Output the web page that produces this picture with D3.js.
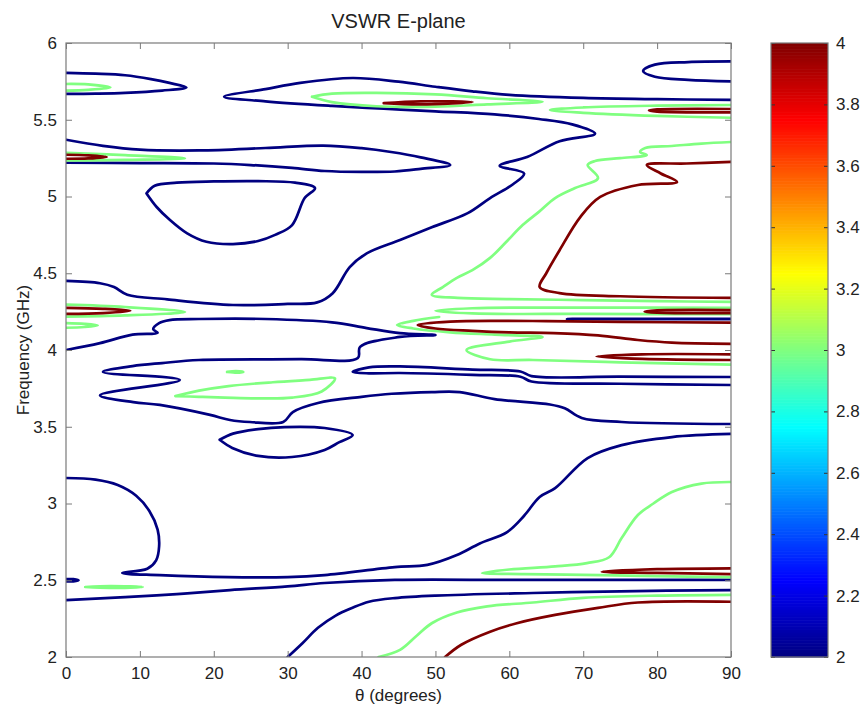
<!DOCTYPE html>
<html>
<head>
<meta charset="utf-8">
<script src="https://cdn.jsdelivr.net/npm/d3@7"></script>
<style>
  body { margin: 0; background: #fff; }
  text { font-family: "Liberation Sans", Arial, sans-serif; fill: #222; }
</style>
</head>
<body>
<svg width="864" height="711"></svg>
<script>
// axis ticks
const thetaTicks = [0, 10, 20, 30, 40, 50, 60, 70, 80, 90];
const freqTicks = [2, 2.5, 3, 3.5, 4, 4.5, 5, 5.5, 6];
const barTicks = [2, 2.2, 2.4, 2.6, 2.8, 3, 3.2, 3.4, 3.6, 3.8, 4];
const levels = [2, 3, 4];

// contour lines, [theta (deg), frequency (GHz)]
// level 2 (blue)
const b2TopLeft = [[0,5.805],[4,5.8],[8,5.79],[11.5,5.765],[14,5.74],[16.3,5.71],[13,5.69],[8,5.675],[4,5.67],[0,5.668]];
const b2Long = [[0,4.45],[4.6,4.435],[6.5,4.41],[8.3,4.36],[13.7,4.33],[22.6,4.293],[30,4.3],[34,4.31],[36.1,4.37],[38.4,4.54],[40.7,4.63],[45.2,4.717],[49.5,4.8],[54.3,4.89],[57.4,4.99],[60.5,5.08],[62,5.15],[58.7,5.2],[62.4,5.257],[66.8,5.36],[71.6,5.41],[68.5,5.47],[64,5.505],[58,5.535],[50,5.555],[43,5.572],[36,5.59],[27,5.62],[21.4,5.65],[27,5.7],[31.7,5.74],[38.8,5.772],[45,5.748],[50,5.715],[55,5.685],[60,5.662],[70,5.642],[80,5.634],[90,5.63]];
const b2Band52 = [[0,5.37],[5,5.33],[10,5.305],[18,5.3],[27,5.316],[34.8,5.332],[40,5.315],[44,5.29],[48,5.255],[52,5.205],[48,5.18],[44.5,5.163],[40,5.16],[35,5.166],[30.6,5.186],[25,5.205],[20,5.215],[10,5.218],[0,5.22]];
const b2Loop50 = [[10.9,5.02],[12,5.07],[15,5.09],[20,5.098],[26,5.1],[31,5.09],[33.7,5.055],[32.3,4.99],[30.6,4.814],[28.3,4.75],[26,4.71],[22.6,4.69],[19,4.705],[16.4,4.76],[14,4.85],[12.3,4.93],[10.9,5.02]];
const b2TopRight = [[90,5.88],[84.2,5.876],[79.7,5.859],[78.1,5.818],[79.7,5.78],[84.2,5.76],[90,5.75]];
const b2Mid = [[0,4.0],[4.6,4.045],[9,4.1],[12.4,4.112],[11.8,4.135],[12.6,4.175],[14,4.195],[18,4.202],[27,4.202],[36,4.18],[40.7,4.143],[45.2,4.11],[50,4.097],[45.2,4.085],[39.8,4.02],[39.5,3.948],[31.7,3.94],[18,3.935],[13,3.915],[9,3.895],[5,3.857],[15.4,3.805],[4.6,3.705],[9.1,3.66],[12.7,3.642],[19.5,3.577],[22.2,3.544],[24.9,3.531],[29.4,3.531],[30.7,3.596],[34.1,3.655],[40,3.695],[44.1,3.715],[49.5,3.726],[53.3,3.726],[58,3.68],[65.5,3.645],[67.5,3.62],[69.8,3.557],[75.2,3.531],[90,3.518]];
const b2Loop385 = [[90,3.824],[75,3.826],[63,3.83],[61.5,3.86],[55,3.872],[45.2,3.893],[41,3.887],[38.8,3.857],[41,3.848],[45.2,3.85],[55,3.838],[61.5,3.826],[63,3.795],[75,3.78],[90,3.772]];
const b2Loop34 = [[20.8,3.415],[22.6,3.455],[26,3.485],[29.6,3.498],[35,3.492],[38.8,3.446],[37,3.4],[35,3.349],[30.6,3.303],[26,3.31],[22.5,3.362],[20.8,3.415]];
const b2Low = [[0,3.166],[4,3.155],[7,3.12],[9.5,3.05],[11.3,2.95],[12.4,2.83],[12.6,2.72],[12.2,2.63],[11,2.575],[7.6,2.547],[12.7,2.534],[22,2.521],[30,2.521],[35,2.534],[44.5,2.586],[48.9,2.6],[52.9,2.664],[56,2.74],[59.7,2.814],[62,2.92],[64.1,3.042],[66.2,3.1],[70.6,3.296],[75.2,3.38],[82,3.433],[90,3.453]];
const b2Band25 = [[0,2.371],[8,2.39],[15,2.41],[22.2,2.436],[30,2.46],[35,2.482],[44.5,2.502],[60,2.502],[75,2.502],[90,2.502]];
const b2Bottom = [[30,2.0],[32,2.09],[34.1,2.19],[36.5,2.27],[38.7,2.319],[41,2.36],[44.5,2.384],[50,2.4],[63.2,2.417],[75,2.428],[90,2.436]];
const b2Dot25 = [[0,2.508],[1,2.507],[1.7,2.5],[1,2.493],[0,2.492]];
const b2Line42 = [[90,4.203],[75,4.203],[67.8,4.202],[75,4.201],[90,4.201]];

// level 3 (green)
const g3TopLeft = [[0,5.733],[3,5.73],[6,5.71],[3,5.695],[0,5.69]];
const g3Mid565 = [[33.3,5.65],[36,5.67],[42,5.675],[50,5.665],[57,5.64],[64.5,5.617],[57,5.6],[50,5.585],[42,5.588],[36,5.615],[33.3,5.65]];
const g3Right555 = [[90,5.596],[80,5.592],[70,5.58],[65.5,5.563],[70,5.545],[80,5.525],[90,5.513]];
const g3Left525 = [[0,5.285],[8,5.27],[16.1,5.25],[8,5.238],[0,5.235]];
const g3Big = [[90,5.355],[86,5.345],[82,5.329],[78.4,5.316],[77.7,5.29],[78.6,5.27],[75,5.25],[71.6,5.231],[70.6,5.205],[72,5.12],[68.9,5.055],[66.2,4.99],[64,4.9],[61.8,4.814],[59.5,4.7],[57.4,4.6],[55,4.52],[52.9,4.47],[51,4.41],[49.5,4.36],[53,4.34],[60,4.332],[70,4.325],[80,4.318],[90,4.313]];
const g3Left425 = [[0,4.295],[8,4.28],[16.1,4.248],[8,4.225],[0,4.218]];
const g3Left416 = [[0,4.175],[2.5,4.17],[4.3,4.16],[2.5,4.15],[0,4.145]];
const g3Right425 = [[90,4.275],[70,4.276],[55,4.272],[50,4.255],[55,4.238],[70,4.235],[90,4.233]];
const g3Right41 = [[50.5,4.215],[47,4.19],[44.8,4.163],[47,4.14],[52,4.115],[58,4.1],[64.5,4.085],[60,4.055],[54.2,4.0],[57.4,3.94],[63.2,3.935],[75,3.92],[90,3.905]];
const g3Loop375 = [[14.8,3.7],[18,3.735],[22,3.765],[28,3.79],[33,3.805],[36.4,3.815],[34.6,3.73],[30.6,3.69],[26,3.685],[21.5,3.69],[18,3.695],[14.8,3.7]];
const g3Dot386 = [[21.8,3.857],[23,3.862],[24,3.857],[23,3.852],[21.8,3.857]];
const g3Right3 = [[90,3.14],[86,3.13],[82,3.075],[79.5,3.0],[77.4,2.925],[75.2,2.775],[73.5,2.65],[70.5,2.612],[66.2,2.59],[60,2.57],[56.3,2.547],[62,2.54],[72.3,2.534],[80,2.527],[90,2.521]];
const g3Left246 = [[2.6,2.456],[6,2.462],[10.4,2.456],[6,2.45],[2.6,2.456]];
const g3Bottom = [[42.3,2.0],[45.2,2.046],[47.5,2.14],[49.5,2.22],[52.9,2.29],[57,2.33],[63.2,2.355],[70,2.385],[80,2.4],[90,2.405]];

// level 4 (dark red)
const r4Mid56 = [[43,5.608],[48,5.62],[55,5.615],[48,5.6],[43,5.608]];
const r4Right556 = [[90,5.57],[80,5.567],[78.9,5.56],[80,5.553],[90,5.548]];
const r4Left526 = [[0,5.272],[3,5.268],[5.5,5.258],[3,5.248],[0,5.246]];
const r4Big = [[90,5.225],[84,5.215],[78.6,5.205],[80.5,5.15],[82.7,5.094],[77.4,5.075],[72.3,4.997],[69.6,4.866],[66.8,4.65],[65,4.5],[64.1,4.41],[66.8,4.371],[75,4.35],[90,4.339]];
const r4Left425 = [[0,4.274],[5,4.268],[8.7,4.255],[5,4.24],[0,4.235]];
const r4Right425 = [[90,4.26],[80,4.258],[78.3,4.25],[80,4.243],[90,4.24]];
const r4Right41 = [[90,4.178],[75,4.183],[65,4.188],[58.7,4.19],[52,4.185],[47.6,4.163],[50,4.14],[55,4.125],[60,4.115],[66,4.11],[72,4.095],[77.4,4.065],[82,4.048],[90,4.04]];
const r4Right395 = [[90,3.972],[78,3.972],[71.8,3.958],[78,3.942],[90,3.935]];
const r4Right256 = [[90,2.578],[80,2.572],[72.5,2.555],[80,2.548],[90,2.54]];
const r4Bottom = [[51.3,2.0],[53.5,2.08],[57.4,2.165],[61,2.22],[66.2,2.274],[72,2.32],[77.4,2.355],[90,2.36]];

const contours = [
  { level: 2, pts: b2TopLeft }, { level: 2, pts: b2Long }, { level: 2, pts: b2Band52 },
  { level: 2, pts: b2Loop50 }, { level: 2, pts: b2TopRight }, { level: 2, pts: b2Mid },
  { level: 2, pts: b2Loop385 }, { level: 2, pts: b2Loop34 }, { level: 2, pts: b2Low },
  { level: 2, pts: b2Band25 }, { level: 2, pts: b2Bottom }, { level: 2, pts: b2Dot25 },
  { level: 2, pts: b2Line42 },
  { level: 3, pts: g3TopLeft }, { level: 3, pts: g3Mid565 }, { level: 3, pts: g3Right555 },
  { level: 3, pts: g3Left525 }, { level: 3, pts: g3Big }, { level: 3, pts: g3Left425 },
  { level: 3, pts: g3Left416 }, { level: 3, pts: g3Right425 }, { level: 3, pts: g3Right41 },
  { level: 3, pts: g3Loop375 }, { level: 3, pts: g3Dot386 }, { level: 3, pts: g3Right3 },
  { level: 3, pts: g3Left246 }, { level: 3, pts: g3Bottom },
  { level: 4, pts: r4Mid56 }, { level: 4, pts: r4Right556 }, { level: 4, pts: r4Left526 },
  { level: 4, pts: r4Big }, { level: 4, pts: r4Left425 }, { level: 4, pts: r4Right425 },
  { level: 4, pts: r4Right41 }, { level: 4, pts: r4Right395 }, { level: 4, pts: r4Right256 },
  { level: 4, pts: r4Bottom }
];

const svg = d3.select("svg");
const plot = { left: 66, right: 731, top: 43, bottom: 657 };
const bar = { left: 771, right: 828 };
const axisColor = "#7a7a7a";

const x = d3.scaleLinear().domain([0, 90]).range([plot.left, plot.right]);
const y = d3.scaleLinear().domain([2, 6]).range([plot.bottom, plot.top]);
const cy = d3.scaleLinear().domain([2, 4]).range([plot.bottom, plot.top]);

// matlab jet
const jet = d3.scaleLinear()
  .domain([0, 0.125, 0.375, 0.625, 0.875, 1])
  .range(["#000080", "#0000ff", "#00ffff", "#ffff00", "#ff0000", "#800000"])
  .interpolate(d3.interpolateRgb);
const colorOf = v => jet((v - levels[0]) / (levels[levels.length - 1] - levels[0]));

svg.append("defs").append("clipPath").attr("id", "clip")
  .append("rect")
  .attr("x", plot.left).attr("y", plot.top)
  .attr("width", plot.right - plot.left).attr("height", plot.bottom - plot.top);

const line = d3.line()
  .x(d => x(d[0]))
  .y(d => y(d[1]))
  .curve(d3.curveCatmullRom.alpha(0.5));

svg.append("g")
  .attr("clip-path", "url(#clip)")
  .selectAll("path")
  .data(contours)
  .enter()
  .append("path")
  .attr("d", d => line(d.pts))
  .attr("fill", "none")
  .attr("stroke", d => colorOf(d.level))
  .attr("stroke-width", 2.7)
  .attr("stroke-linejoin", "round")
  .attr("stroke-linecap", "round");

// axes box with inward ticks
const tickLen = 6;
const xBottom = d3.axisBottom(x).tickValues(thetaTicks).tickSizeInner(-tickLen).tickSizeOuter(0).tickPadding(10);
const xTop = d3.axisTop(x).tickValues(thetaTicks).tickSizeInner(-tickLen).tickSizeOuter(0).tickFormat("");
const yLeft = d3.axisLeft(y).tickValues(freqTicks).tickSizeInner(-tickLen).tickSizeOuter(0).tickPadding(9).tickFormat(d3.format("~g"));
const yRight = d3.axisRight(y).tickValues(freqTicks).tickSizeInner(-tickLen).tickSizeOuter(0).tickFormat("");

function styleAxis(g) {
  g.select(".domain").remove();
  g.selectAll(".tick line").attr("stroke", axisColor);
  g.selectAll(".tick text").attr("fill", "#222").style("font-size", "17px")
    .style("font-family", '"Liberation Sans", Arial, sans-serif');
}
svg.append("g").attr("transform", `translate(0,${plot.bottom})`).call(xBottom).call(styleAxis);
svg.append("g").attr("transform", `translate(0,${plot.top})`).call(xTop).call(styleAxis);
svg.append("g").attr("transform", `translate(${plot.left},0)`).call(yLeft).call(styleAxis);
svg.append("g").attr("transform", `translate(${plot.right},0)`).call(yRight).call(styleAxis);

svg.append("rect")
  .attr("x", plot.left).attr("y", plot.top)
  .attr("width", plot.right - plot.left).attr("height", plot.bottom - plot.top)
  .attr("fill", "none").attr("stroke", axisColor).attr("stroke-width", 1.2);

// colorbar
const steps = d3.range(2, 4, 0.005);
svg.append("g")
  .selectAll("rect")
  .data(steps)
  .enter()
  .append("rect")
  .attr("x", bar.left)
  .attr("y", d => cy(d + 0.005))
  .attr("width", bar.right - bar.left)
  .attr("height", d => cy(d) - cy(d + 0.005) + 0.6)
  .attr("fill", d => colorOf(d + 0.0025));

const barLeft = d3.axisRight(cy).tickValues(barTicks).tickSizeInner(4).tickSizeOuter(0).tickFormat("");
const barRight = d3.axisRight(cy).tickValues(barTicks).tickSizeInner(-4).tickSizeOuter(0).tickPadding(8).tickFormat(d3.format("~g"));
svg.append("g").attr("transform", `translate(${bar.left},0)`).call(barLeft).call(styleAxis)
  .selectAll(".tick line").attr("stroke", "#333");
svg.append("g").attr("transform", `translate(${bar.right},0)`).call(barRight).call(styleAxis)
  .selectAll(".tick line").attr("stroke", "#333");

svg.append("rect")
  .attr("x", bar.left).attr("y", plot.top)
  .attr("width", bar.right - bar.left).attr("height", plot.bottom - plot.top)
  .attr("fill", "none").attr("stroke", axisColor).attr("stroke-width", 1.2);

// titles
svg.append("text")
  .attr("x", (plot.left + plot.right) / 2)
  .attr("y", 28)
  .attr("text-anchor", "middle")
  .style("font-size", "20px")
  .text("VSWR E-plane");

svg.append("text")
  .attr("x", (plot.left + plot.right) / 2)
  .attr("y", 701)
  .attr("text-anchor", "middle")
  .style("font-size", "17px")
  .text("θ (degrees)");

svg.append("text")
  .attr("transform", `translate(29,${(plot.top + plot.bottom) / 2}) rotate(-90)`)
  .attr("text-anchor", "middle")
  .style("font-size", "17px")
  .text("Frequency (GHz)");
</script>
</body>
</html>
